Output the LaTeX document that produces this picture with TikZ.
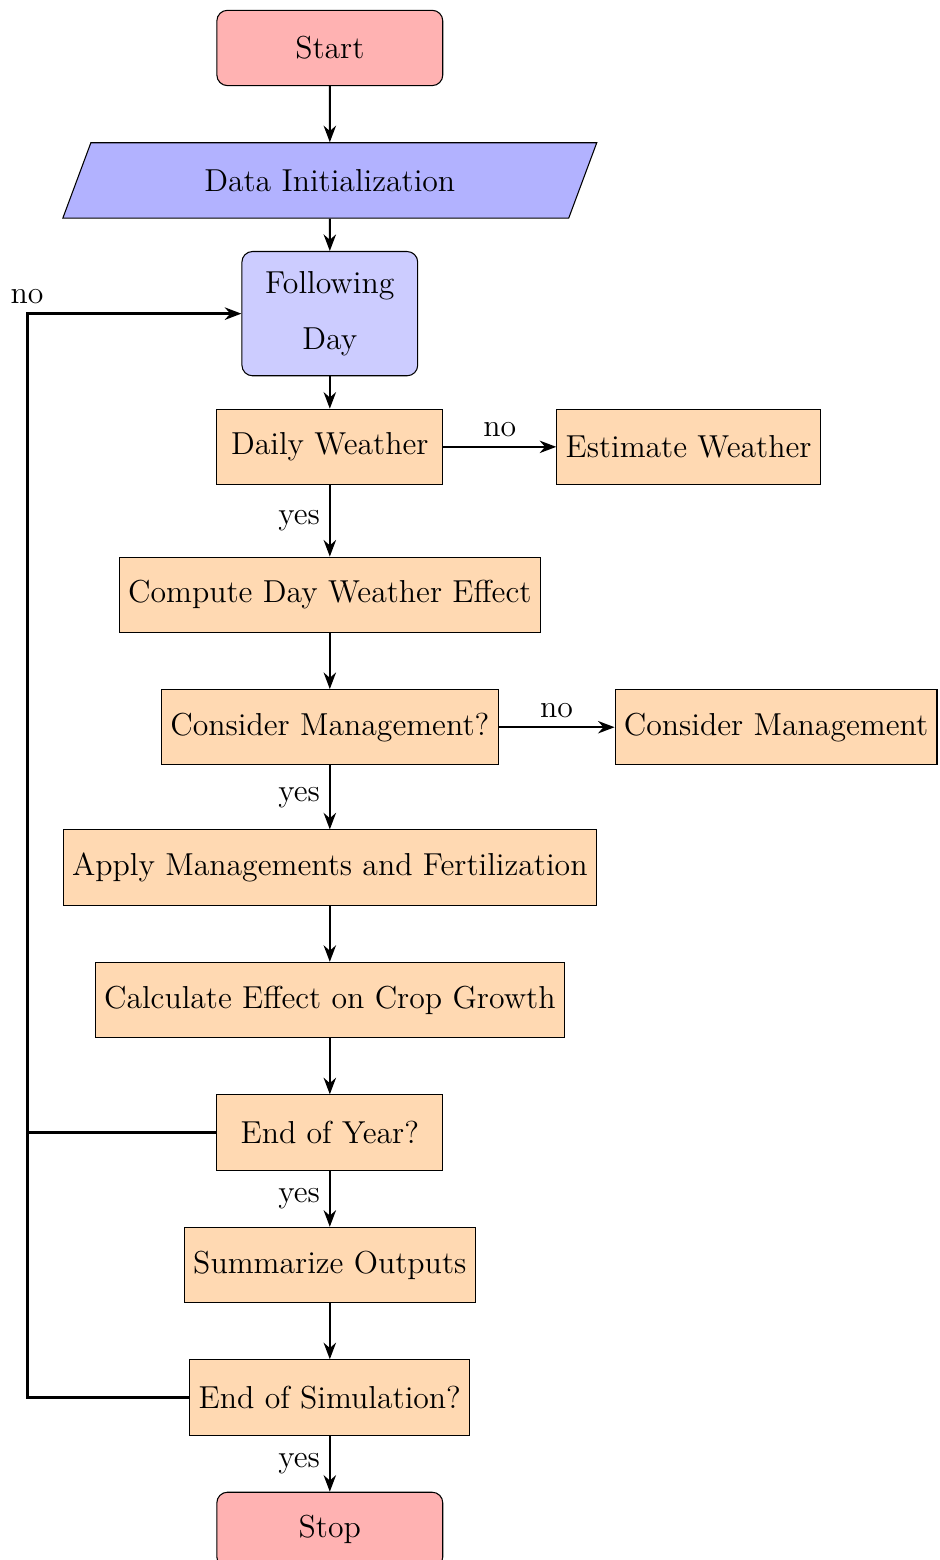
\documentclass[tikz,border=0pt]{standalone}
\usepackage{tikz}
\usetikzlibrary{shapes.geometric, arrows.meta, positioning, calc}
\tikzset{
  startstop/.style = {rectangle, rounded corners=4pt, draw=black, fill=red!30,
                      minimum height=10mm, minimum width=30mm, align=center,
                      font=\large},
  io/.style        = {trapezium, trapezium left angle=55, trapezium right angle=125,
                      trapezium stretches body, draw=black, fill=blue!30,
                      minimum height=10mm, minimum width=70.9mm, align=center,
                      font=\large},
  dayloop/.style   = {rectangle, rounded corners=4pt, draw=black, fill=blue!20,
                      minimum height=16.5mm, text width=21mm, align=center,
                      font=\large},
  process/.style   = {rectangle, draw=black, fill=orange!30,
                      minimum height=10mm, minimum width=30mm, align=center,
                      font=\large},
  arrow/.style     = {-{Stealth[length=2.2mm]}, thick, black},
  looparrow/.style = {-{Stealth[length=2.2mm]}, line width=1.1pt, black},
  loopline/.style  = {line width=1.1pt, black},
  answer/.style    = {font=\large},
}
\begin{document}
\begin{tikzpicture}[node distance=7.45mm]
  \useasboundingbox (-4.38,0.637) rectangle (8.10,-20.08);
  \node[startstop] (start) {Start};
  \node[io, below=of start] (init) {Data Initialization};
  \node[dayloop, below=4.3mm of init] (nextday) {Following\\[7pt]Day};
  \node[process, below=4.3mm of nextday] (weather) {Daily Weather};
  \node[process, right=15mm of weather] (estimate) {Estimate Weather};
  \node[process, below=9.5mm of weather] (compute) {Compute Day Weather Effect};
  \node[process, below=of compute] (askmgmt) {Consider Management?};
  \node[process, right=15.4mm of askmgmt] (mgmt) {Consider Management};
  \node[process, below=8.5mm of askmgmt] (apply) {Apply Managements and Fertilization};
  \node[process, below=of apply] (growth) {Calculate Effect on Crop Growth};
  \node[process, below=of growth] (endyear) {End of Year?};
  \node[process, below=of endyear] (summary) {Summarize Outputs};
  \node[process, below=of summary] (endsim) {End of Simulation?};
  \node[startstop, below=of endsim] (stop) {Stop};
  \coordinate (back) at (-4.02,0);

  \draw[arrow] (start) -- (init);
  \draw[arrow] (init) -- (nextday);
  \draw[arrow] (nextday) -- (weather);
  \draw[arrow] (weather) -- node[answer, above] {no} (estimate);
  \draw[arrow] (weather) -- node[answer, left] {yes} (compute);
  \draw[arrow] (compute) -- (askmgmt);
  \draw[arrow] (askmgmt) -- node[answer, above] {no} (mgmt);
  \draw[arrow] (askmgmt) -- node[answer, left] {yes} (apply);
  \draw[arrow] (apply) -- (growth);
  \draw[arrow] (growth) -- (endyear);
  \draw[arrow] (endyear) -- node[answer, left] {yes} (summary);
  \draw[arrow] (summary) -- (endsim);
  \draw[arrow] (endsim) -- node[answer, left] {yes} (stop);

  % back to the next day
  \draw[looparrow] (endsim.west) -- (endsim.west -| back) |- (nextday.west)
    node[answer, pos=0.5, above] {no};
  \draw[loopline] (endyear.west) -- (endyear.west -| back);
\end{tikzpicture}
\end{document}
